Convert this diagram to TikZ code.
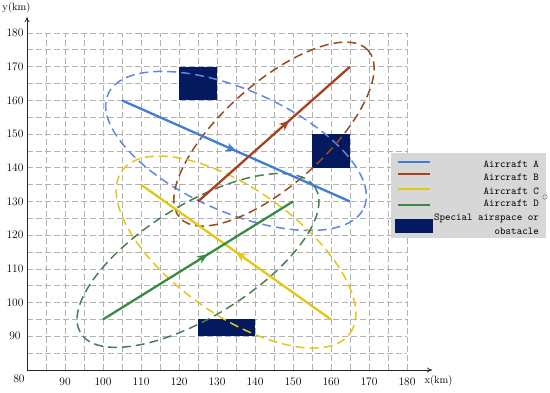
\documentclass[tikz,border=0pt]{standalone}
\usetikzlibrary{arrows.meta,decorations.markings}
\definecolor{cA}{RGB}{65,125,215}
\definecolor{cAe}{RGB}{95,135,225}
\definecolor{cB}{RGB}{170,65,30}
\definecolor{cBe}{RGB}{150,75,35}
\definecolor{cC}{RGB}{225,200,20}
\definecolor{cD}{RGB}{55,140,65}
\definecolor{cDe}{RGB}{75,125,85}
\definecolor{navy}{RGB}{5,25,95}
\definecolor{legbg}{RGB}{215,215,215}
\begin{document}
\begin{tikzpicture}[
  gridline/.style={draw=gray!60, line width=0.7pt, dash pattern=on 6pt off 3pt},
  axisline/.style={draw=black!85, line width=0.8pt, -{To[length=5pt,width=5pt]}},
  ticklab/.style={font=\fontsize{11.5}{13}\selectfont, inner sep=0pt},
  legtext/.style={font=\ttfamily\fontsize{10.5}{12}\selectfont, inner sep=0pt, anchor=east},
  zone/.style={line width=1.5pt, dash pattern=on 9pt off 5pt},
  route/.style={line width=2.3pt, postaction={decorate, decoration={markings,
      mark=at position #1 with {\arrow{Stealth[length=10pt,width=8.5pt,inset=3pt]}}}}},
  obst/.style={fill=navy, draw=none},
  legline/.style={line width=2.5pt}
]
\useasboundingbox (0,0) rectangle (550pt,393pt);
\begin{scope}[shift={(-277pt,-246.6pt)}, x=3.8pt, y=3.37pt]
  % grid
  \foreach \i in {85,90,...,180} \draw[gridline] (\i,80) -- (\i,180);
  \foreach \j in {85,90,...,180} \draw[gridline] (80,\j) -- (180,\j);
  % axes
  \coordinate (O) at (80,80);
  \coordinate (Xend) at (186.6,80);
  \coordinate (Yend) at (80,184.7);
  \draw[axisline] (O) -- (Xend);
  \draw[axisline] (O) -- (Yend);
  % tick labels
  \foreach \v in {90,100,...,180} {
    \node[ticklab] (xl\v) at (\v,80) [yshift=-12pt] {\v};
    \node[ticklab] (yl\v) at (80,\v) [xshift=-12pt] {\v};
  }
  \node[ticklab] (zero) at (80,80) [xshift=-8pt, yshift=-8.5pt] {80};
  \node[ticklab, font=\fontsize{10.5}{12}\selectfont] (xunit) at (180,80) [xshift=31.5pt, yshift=-11pt] {x(km)};
  \node[ticklab, font=\fontsize{10.5}{12}\selectfont] (yunit) at (80,180) [xshift=-10.5pt, yshift=25pt] {y(km)};
  % obstacles
  \node[obst, inner sep=0pt, minimum width=38pt, minimum height=33.7pt] (ob1) at (125,165) {};
  \node[obst, inner sep=0pt, minimum width=38pt, minimum height=33.7pt] (ob2) at (160,145) {};
  \node[obst, inner sep=0pt, minimum width=57pt, minimum height=16.85pt] (ob3) at (132.5,92.5) {};
  % route end points
  \coordinate (A1) at (105,160); \coordinate (A2) at (165,130);
  \coordinate (B1) at (125,130); \coordinate (B2) at (165,170);
  \coordinate (C1) at (160,95);  \coordinate (C2) at (110,135);
  \coordinate (D1) at (100,95);  \coordinate (D2) at (150,130);
  % protection zones
  \draw[zone, draw=cAe, rotate around={-23.9:(135,145)}] (135,145) ellipse [x radius=140pt, y radius=61pt];
  \draw[zone, draw=cBe, rotate around={41.6:(145,150)}] (145,150) ellipse [x radius=126pt, y radius=51pt];
  \draw[zone, draw=cC, rotate around={-35.4:(135,115)}] (135,115) ellipse [x radius=140pt, y radius=63pt];
  \draw[zone, draw=cDe, rotate around={31.8:(125,112.5)}] (125,112.5) ellipse [x radius=138pt, y radius=56pt];
  % routes
  \draw[route=0.5, color=cA] (A1) -- (A2);
  \draw[route=0.6, color=cB] (B1) -- (B2);
  \draw[route=0.5, color=cC] (C1) -- (C2);
  \draw[route=0.55, color=cD] (D1) -- (D2);
\end{scope}
% legend
\node[fill=legbg, draw=none, inner sep=0pt, minimum width=155pt, minimum height=85pt, anchor=south west] (legbox) at (391pt,155pt) {};
\coordinate (lA1) at (398pt,231pt); \coordinate (lA2) at (430pt,231pt);
\coordinate (lB1) at (398pt,219pt); \coordinate (lB2) at (430pt,219pt);
\coordinate (lC1) at (398pt,204pt); \coordinate (lC2) at (430pt,204pt);
\coordinate (lD1) at (398pt,188pt); \coordinate (lD2) at (430pt,188pt);
\draw[legline, cA] (lA1) -- (lA2);
\draw[legline, cB] (lB1) -- (lB2);
\draw[legline, cC] (lC1) -- (lC2);
\draw[legline, cD] (lD1) -- (lD2);
\node[obst, inner sep=0pt, minimum width=38pt, minimum height=14pt, anchor=south west] (lobst) at (395pt,160pt) {};
\node[legtext] (tA) at (539pt,229pt) {Aircraft A};
\node[legtext] (tB) at (539pt,216pt) {Aircraft B};
\node[legtext] (tC) at (539pt,202pt) {Aircraft C};
\node[legtext] (tD) at (539pt,190pt) {Aircraft D};
\node[legtext] (tE) at (539pt,175pt) {Special airspace or};
\node[legtext] (tF) at (539pt,162pt) {obstacle};
\node[circle, draw=gray, line width=0.5pt, inner sep=0pt, minimum size=4.5pt] (dot) at (545pt,196pt) {};
\end{tikzpicture}
\end{document}
